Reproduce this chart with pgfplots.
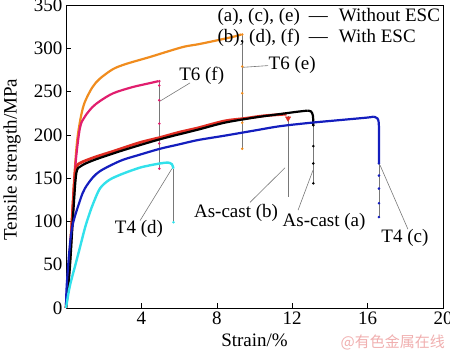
\documentclass[border=0pt]{standalone}
\usepackage{pgfplots}
\pgfplotsset{compat=1.18}
\usepackage{fontspec}
\setmainfont{Liberation Serif}
\newfontfamily\tnr{Liberation Serif}
\newfontfamily\cjk{Noto Sans CJK SC}
\usetikzlibrary{calc}
\definecolor{corange}{RGB}{240,140,30}
\definecolor{cmag}{RGB}{225,30,110}
\definecolor{cred}{RGB}{225,45,35}
\definecolor{cblue}{RGB}{20,30,190}
\definecolor{ccyan}{RGB}{50,225,235}
\definecolor{lgray}{RGB}{120,120,120}
\definecolor{wm}{RGB}{240,175,175}
\newcommand{\fs}{\tnr\fontsize{19}{21}\selectfont}
\begin{document}
\begin{tikzpicture}
\begin{axis}[name=ax, scale only axis, width=377pt, height=303pt,
  xmin=0, xmax=20, ymin=0, ymax=350,
  xtick={0,4,...,20}, xticklabels={,4,8,12,16,20},
  ytick={0,50,...,350},
  tick align=inside, xtick pos=bottom, ytick pos=left,
  major tick length=5pt,
  tick style={black, line width=0.6pt},
  axis line style={line width=0.8pt},
  /pgf/number format/assume math mode=true,
  every tick label/.append style={font=\fs},
  every axis label/.append style={font=\fs},
  xlabel={Strain/\%}, ylabel={Tensile strength/MPa},
  xlabel style={at={(axis description cs:0.5,-0.108)}, anchor=center},
  ylabel style={at={(axis description cs:-0.143,0.49)}, anchor=center},
  clip=false]
% gray drop lines
\addplot[lgray, line width=0.7pt, mark=*, mark size=0.9pt, mark options={corange, draw=corange}] coordinates {(9.35,316)(9.35,279)(9.35,248)(9.35,214)(9.35,184)};
\addplot[lgray, line width=0.7pt, mark=*, mark size=0.9pt, mark options={cmag, draw=cmag}] coordinates {(4.95,262)(4.95,257)(4.95,240)(4.95,213)(4.95,190)(4.95,161)};
\addplot[lgray, line width=0.7pt, mark=*, mark size=0.9pt, mark options={black, draw=black}] coordinates {(13.12,211)(13.12,187)(13.12,167)(13.12,144)};
\addplot[lgray, line width=0.7pt, mark=*, mark size=0.9pt, mark options={cblue, draw=cblue}] coordinates {(16.6,167)(16.6,153)(16.6,138)(16.6,121)(16.6,105)};
\addplot[lgray, line width=0.7pt, mark=*, mark size=0.9pt, mark options={ccyan, draw=ccyan}, mark indices={2}] coordinates {(5.7,161)(5.7,99)};
\addplot[lgray, line width=0.7pt] coordinates {(11.78,222)(11.78,128)};
% curves
\addplot[corange, line width=2.2pt, smooth] coordinates {(0,0)(0.15,50)(0.3,100)(0.45,155)(0.6,195)(0.8,222)(1.0,238)(1.4,255)(1.8,265)(2.5,276)(3.2,282)(4.46,290)(5.5,297)(6.3,302)(7.1,305)(8.4,311)(9.0,314)(9.3,316)};
\addplot[cmag, line width=2.2pt, smooth] coordinates {(0,0)(0.15,45)(0.3,95)(0.5,165)(0.74,208)(1.0,221)(1.4,232)(1.8,239)(2.5,248)(3.5,255)(4.5,260)(4.9,262)};
\addplot[cred, line width=2.8pt, smooth] coordinates {(0,0)(0.15,40)(0.3,90)(0.45,145)(0.55,163)(0.8,168)(1.5,174)(2.5,181)(3.9,191)(5,197)(6,203)(7,208)(8.4,216)(9.5,219)(10.5,222)(11.7,224)};
\addplot[black, line width=2.2pt, smooth] coordinates {(0,0)(0.2,45)(0.4,115)(0.55,156)(0.8,164)(1.5,171)(3,182)(5,195)(7,206)(8.4,214)(10,220)(11,223)(12.2,226.5)(12.8,228)};
\addplot[black, line width=2.2pt, smooth] coordinates {(12.8,228)(13.0,227)(13.1,222)(13.12,211)};
\addplot[cblue, line width=2.2pt, smooth] coordinates {(0,0)(0.05,30)(0.3,90)(0.74,124)(1.0,138)(1.43,151)(1.8,158)(2.3,164)(3,171)(3.9,177)(5,184)(6,189)(7,194)(8.4,199)(10,205)(11.35,210)(13,214)(14.5,217)(16,220)(16.3,221)};
\addplot[cblue, line width=2.2pt, smooth] coordinates {(16.3,221)(16.52,219)(16.6,210)(16.6,167)};
\addplot[ccyan, line width=2.4pt, smooth] coordinates {(0,0)(0.2,25)(0.5,50)(0.74,70)(1.0,92)(1.2,106)(1.43,120)(1.8,138)(2.3,148)(3,155)(3.9,162)(4.5,165)(5,167)(5.4,168)(5.62,166)(5.7,161)};
\addplot[cred, only marks, mark=triangle*, mark size=3pt, mark options={rotate=180}] coordinates {(11.78,219)};
% leader lines
\draw[lgray, line width=0.6pt] (axis cs:4.99,239) -- (axis cs:6.58,260);
\draw[lgray, line width=0.6pt] (axis cs:9.38,278) -- (axis cs:10.72,280);
\draw[lgray, line width=0.6pt] (axis cs:3.93,101) -- (axis cs:5.62,161);
\draw[lgray, line width=0.6pt] (axis cs:9.76,122) -- (axis cs:11.62,162);
\draw[lgray, line width=0.6pt] (axis cs:12.31,113) -- (axis cs:13.1,159);
\draw[lgray, line width=0.6pt] (axis cs:18.14,91) -- (axis cs:16.66,165);
% labels
\node[font=\fs] at (axis cs:7.2,268) {T6 (f)};
\node[font=\fs] at (axis cs:12.0,281) {T6 (e)};
\node[font=\fs] at (axis cs:3.87,91) {T4 (d)};
\node[font=\fs] at (axis cs:9.02,110) {As-cast (b)};
\node[font=\fs] at (axis cs:13.69,99) {As-cast (a)};
\node[font=\fs] at (axis cs:17.98,81) {T4 (c)};
% legend text
\node[font=\fs, anchor=east, inner sep=0pt] (l1) at (axis cs:19.85,336) {(a), (c), (e)\hspace{9pt}—\hspace{11pt}Without ESC};
\node[font=\fs, anchor=west, inner sep=0pt] at ($(l1.west)+(0,-21pt)$) {(b), (d), (f)\hspace{9pt}—\hspace{11pt}With ESC};
\end{axis}
\node[font=\cjk\fontsize{15}{17}\selectfont, text=wm, anchor=east, inner sep=0pt] at ($(ax.south east)+(2pt,-34pt)$) {@有色金属在线};
\pgfresetboundingbox
\path[use as bounding box] ($(ax.south west)+(-66pt,-42pt)$) rectangle ($(ax.north east)+(7pt,5pt)$);
\end{tikzpicture}
\end{document}
